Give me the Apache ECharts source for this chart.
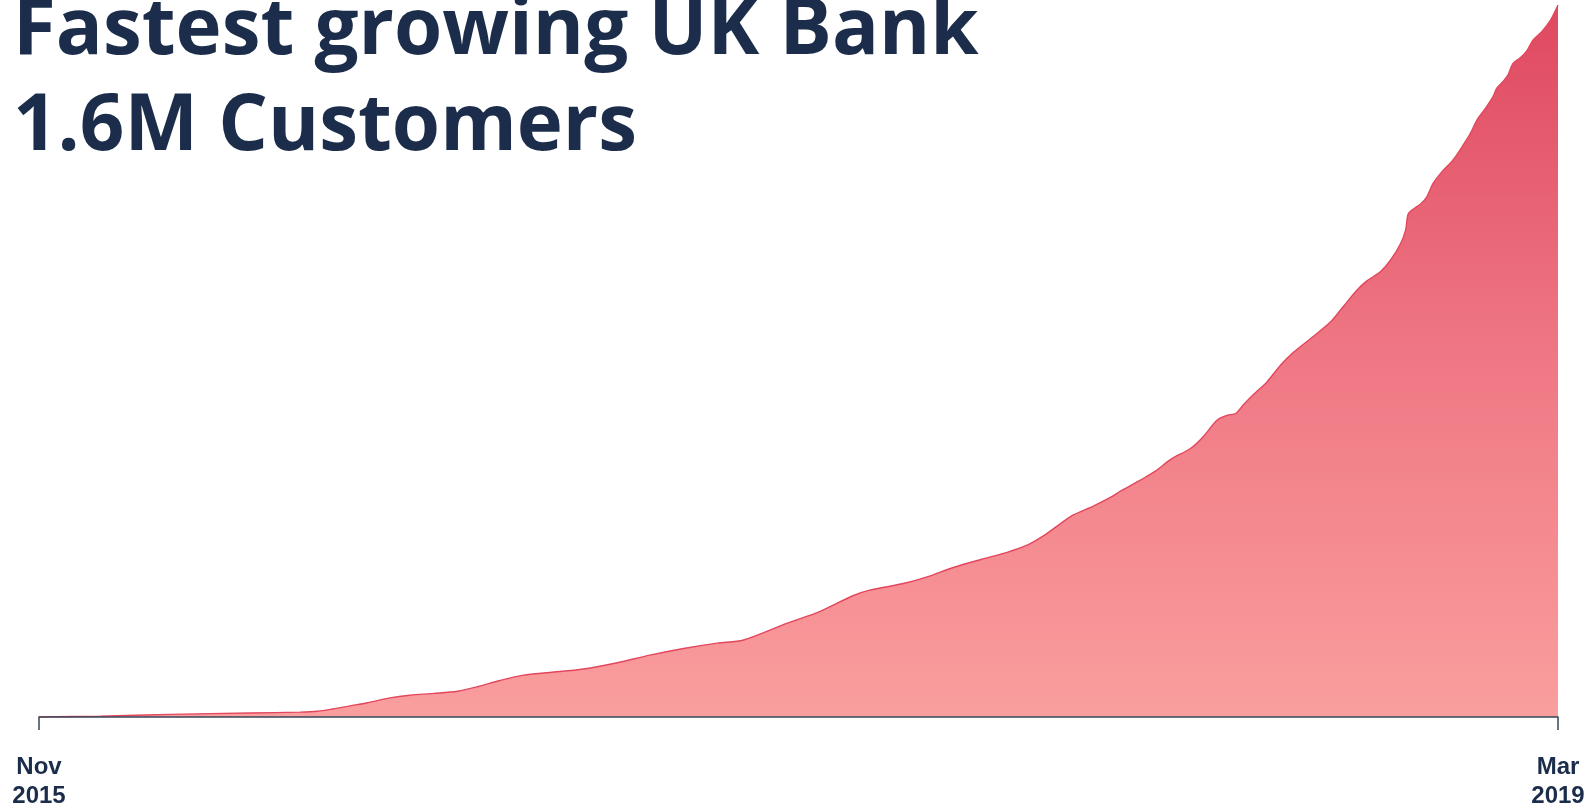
<!DOCTYPE html>
<html>
<head>
<meta charset="utf-8">
<script src="https://cdn.jsdelivr.net/npm/echarts@6/dist/echarts.min.js"></script>
<style>
  html, body { margin: 0; padding: 0; background: #ffffff; }
  #chart { width: 1595px; height: 807px; }
</style>
</head>
<body>
<div id="chart"></div>
<script>
// Headline
const titleLines = ['Fastest growing UK Bank', '1.6M Customers'];

// End labels of the time axis
const startLabel = 'Nov\n2015';
const endLabel = 'Mar\n2019';

// Days since 1 Nov 2015 (axis runs to 1 Mar 2019 = day 1216)
const days = [0, 49, 105, 169, 209, 223, 235, 249, 263, 281, 297, 316, 335, 351, 369,
  388, 409, 436, 463, 489, 516, 543, 564, 599, 625, 652, 665, 692, 711, 732,
  754, 775, 791, 804, 815, 828, 844, 858, 866, 882, 894, 906, 922, 932, 943,
  951, 958, 964, 972, 983, 994, 1004, 1020, 1034, 1044, 1055, 1063, 1074, 1082, 1090,
  1094, 1096, 1100, 1106, 1111, 1116, 1123, 1132, 1140, 1146, 1151, 1158, 1164, 1167, 1172,
  1176, 1180, 1186, 1191, 1196, 1203, 1210, 1216];

// Customers, thousands
const customers = [0, 2, 6, 9, 11, 13, 18, 25, 32, 43, 49, 53, 58, 68, 82,
  94, 100, 108, 122, 139, 154, 166, 173, 211, 237, 273, 285, 300, 315, 336,
  354, 370, 386, 407, 429, 454, 474, 494, 508, 533, 553, 579, 604, 630, 667,
  678, 682, 701, 724, 753, 791, 819, 855, 888, 922, 959, 980, 1001, 1027, 1064,
  1094, 1130, 1141, 1153, 1169, 1199, 1225, 1252, 1285, 1312, 1341, 1368, 1394, 1413, 1428,
  1443, 1469, 1482, 1497, 1521, 1540, 1566, 1600];

const lastDay = days[days.length - 1];
const seriesData = days.map((d, i) => [d, customers[i]]);

const navy = '#1b2d4a';
const chart = echarts.init(document.getElementById('chart'), null, { renderer: 'canvas' });

chart.setOption({
  animation: false,
  backgroundColor: '#ffffff',
  title: {
    text: titleLines.join('\n'),
    left: 8,
    top: -21,
    textStyle: {
      fontFamily: 'Open Sans',
      fontWeight: 700,
      fontSize: 78,
      lineHeight: 96,
      color: navy
    }
  },
  grid: { left: 39, right: 37, top: 5, bottom: 90, outerBoundsMode: 'none' },
  xAxis: {
    type: 'value',
    min: 0,
    max: lastDay,
    interval: lastDay,
    z: 5,
    axisLine: { show: true, lineStyle: { color: '#3a4558', width: 1.5 } },
    axisTick: { show: true, length: 13, lineStyle: { color: '#3a4558', width: 1.5 } },
    splitLine: { show: false },
    axisLabel: {
      show: true,
      showMinLabel: true,
      showMaxLabel: true,
      margin: 36,
      fontFamily: 'Liberation Sans',
      fontWeight: 'bold',
      fontSize: 24,
      lineHeight: 29,
      color: navy,
      formatter: v => (v === 0 ? startLabel : endLabel)
    }
  },
  yAxis: {
    type: 'value',
    min: 0,
    max: 1600,
    show: false
  },
  series: [{
    type: 'line',
    data: seriesData,
    smooth: 0.3,
    symbol: 'none',
    lineStyle: { color: '#e2475d', width: 1.4 },
    areaStyle: {
      opacity: 1,
      color: new echarts.graphic.LinearGradient(0, 0, 0, 1, [
        { offset: 0, color: '#df4960' },
        { offset: 0.5, color: '#ef7884' },
        { offset: 1, color: '#fa9e9e' }
      ])
    }
  }]
});
</script>
</body>
</html>
